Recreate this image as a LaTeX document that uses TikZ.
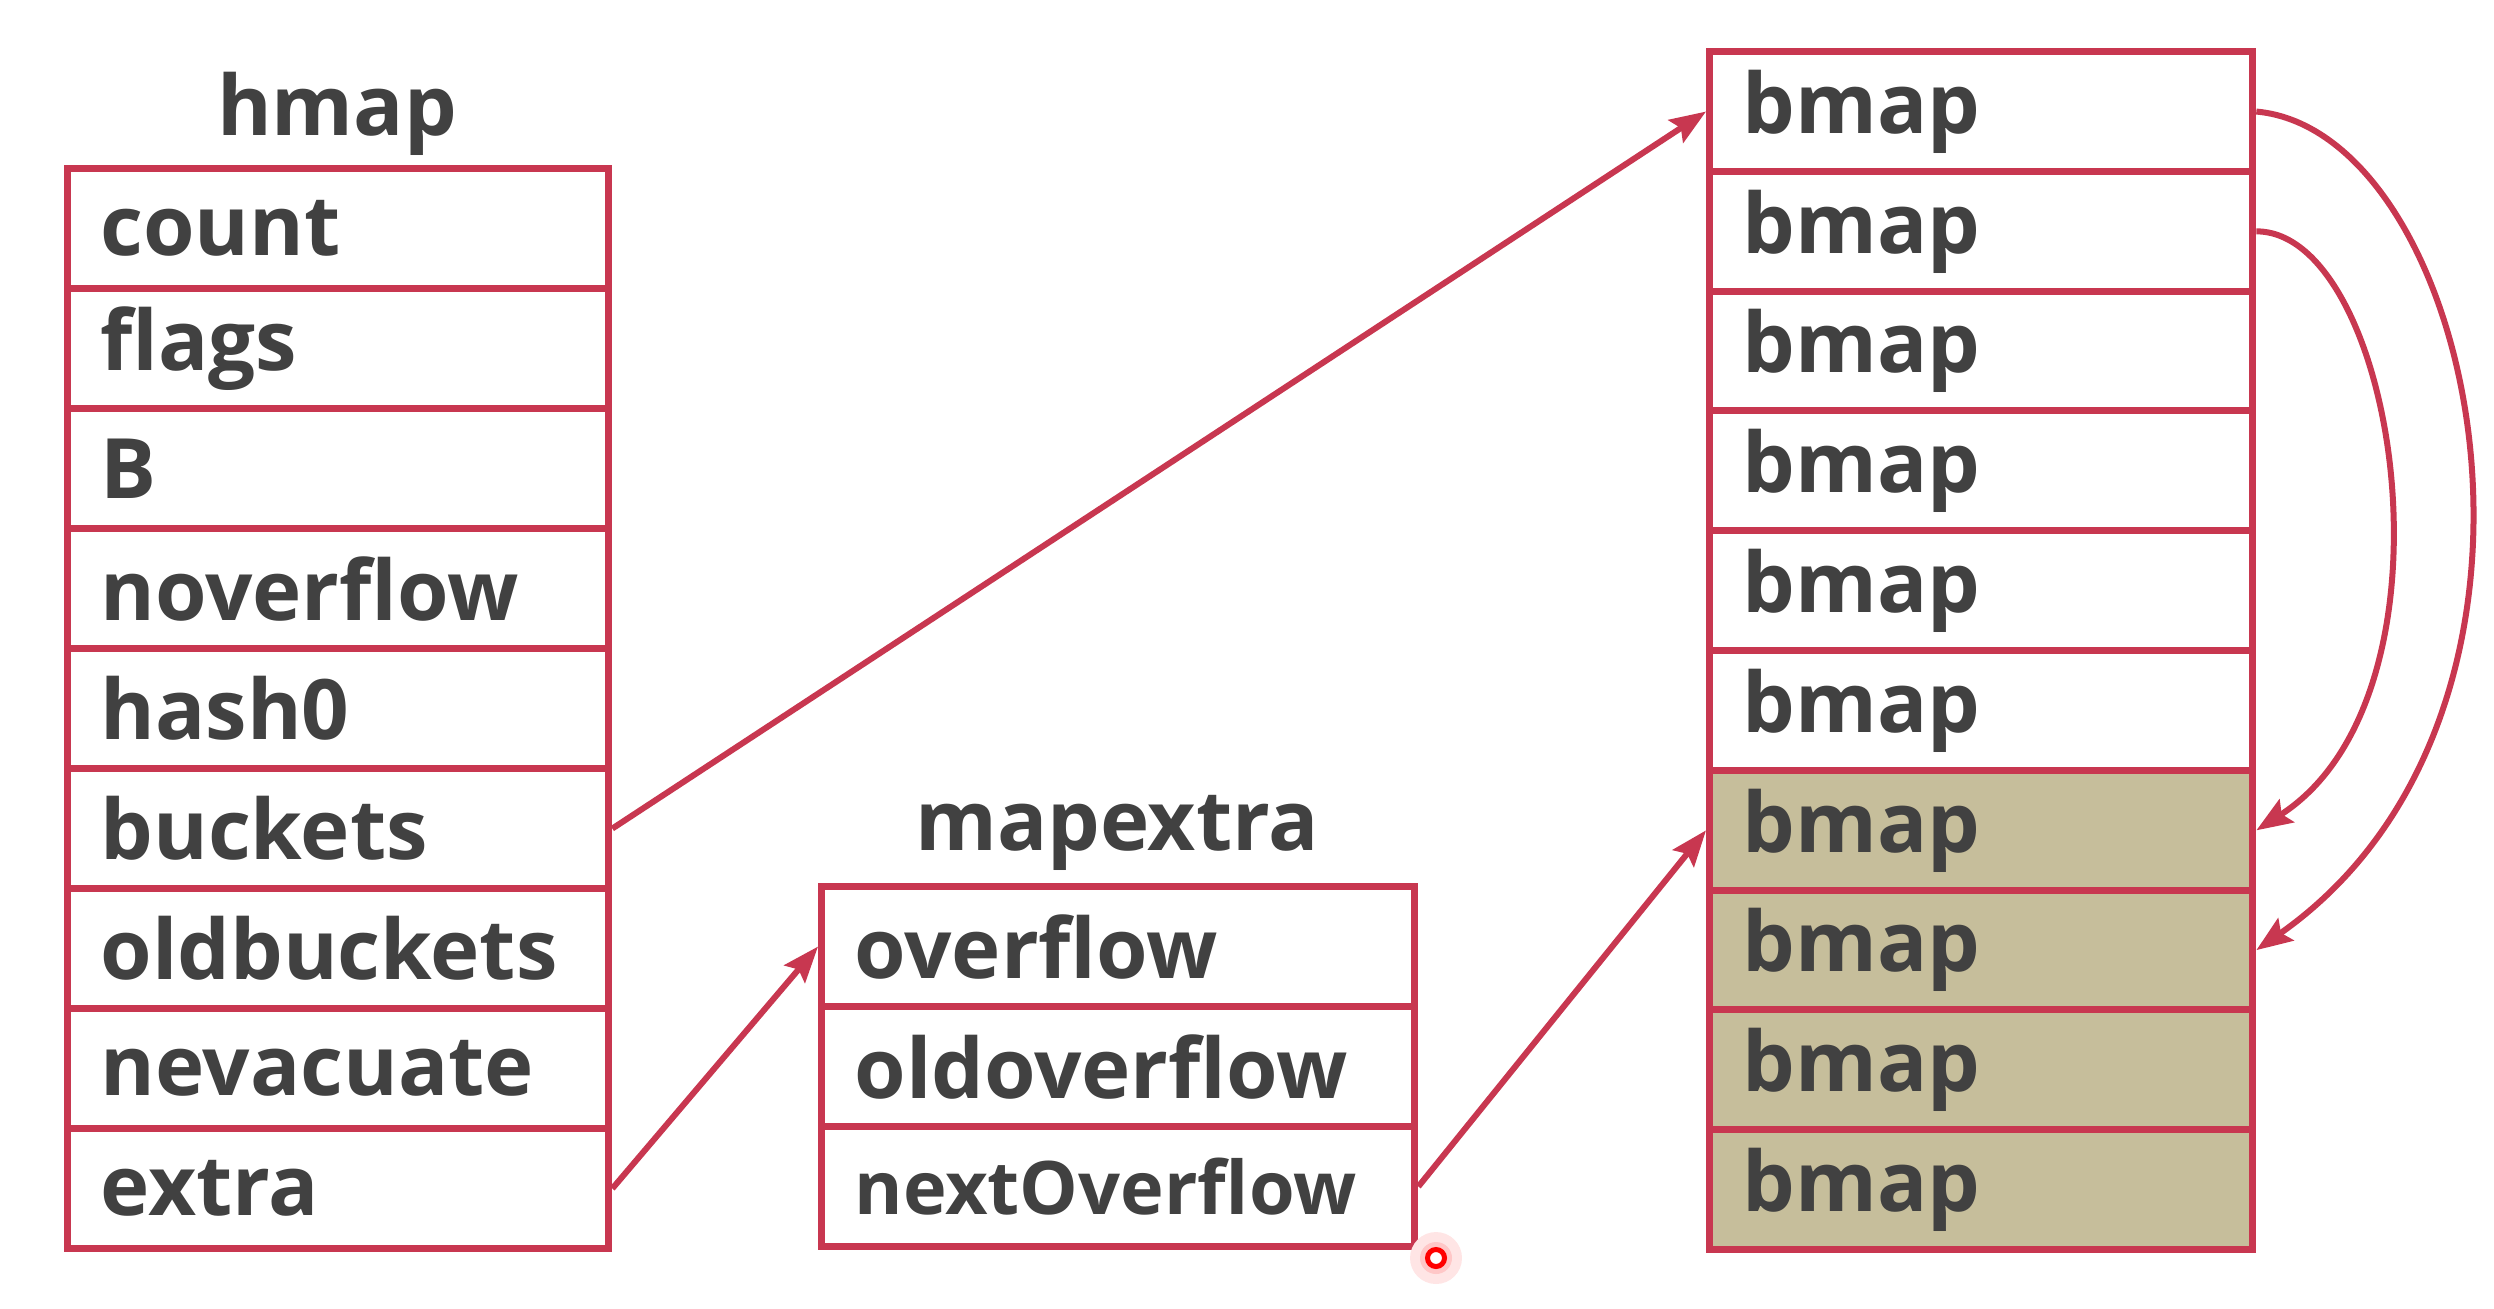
\documentclass[tikz,border=0pt]{standalone}
\usepackage{fontspec}
\setsansfont{Open Sans}
\usetikzlibrary{arrows.meta,positioning}
\definecolor{boxred}{RGB}{200,55,80}
\definecolor{txtgray}{RGB}{65,65,65}
\definecolor{oldtan}{RGB}{198,190,155}

\begin{document}
\begin{tikzpicture}[x=0.01cm,y=0.01cm,
	field/.style={draw=boxred,line width=0.07cm,fill=white,anchor=north west,minimum height=1.2cm,
		inner xsep=0.33cm,inner ysep=0pt,align=left,text=txtgray,font=\fontsize{23.7}{28}\sffamily\bfseries},
	oldfield/.style={field,fill=oldtan},
	title/.style={text=txtgray,font=\fontsize{23.7}{28}\sffamily\bfseries},
	link/.style={draw=boxred,line width=0.06cm,-{Stealth[length=0.36cm,width=0.27cm,inset=0.06cm]}}]
	\useasboundingbox (0,0) rectangle (2494,-1308);
	% hmap
	\node[title] (hmaptitle) at (337,-114) {hmap};
	\foreach \name [count=\i from 0] in {count,flags,B,noverflow,hash0,buckets,oldbuckets,nevacuate,extra}
		\node[field,text width=4.75cm] (\name) at (64,{-165-120*\i}) {\name};
	% mapextra
	\node[title] (extratitle) at (1117,-833) {mapextra};
	\node[field,text width=5.27cm] (overflow) at (818,-883) {overflow};
	\node[field,text width=5.27cm] (oldoverflow) at (818,-1003) {oldoverflow};
	\node[field,text width=5.27cm,font=\fontsize{21}{25}\sffamily\bfseries] (nextOverflow) at (818,-1123) {nextOverflow};
	% bmap buckets
	\foreach \i in {1,...,6}
		\node[field,text width=4.77cm] (b\i) at (1706,{-48-119.8*(\i-1)}) {bmap};
	\foreach \i in {7,...,10}
		\node[oldfield,text width=4.77cm] (b\i) at (1706,{-48-119.8*(\i-1)}) {bmap};
	% pointers
	\draw[link] (buckets.east) -- (b1.west);
	\draw[link] (extra.east) -- (overflow.west);
	\draw[link] (nextOverflow.east) -- (b7.west);
	\draw[link] (b1.east) .. controls +(220,-20) and +(342,240) .. (b8.east);
	\draw[link] (b2.east) .. controls +(140,0) and +(212,136) .. (b7.east);
	% laser dot
	\fill[red!10] (1436,-1258) circle (26);
	\fill[red!22] (1436,-1258) circle (16);
	\node[circle,draw=red,fill=white,line width=0.05cm,inner sep=0pt,minimum size=0.17cm] (dot) at (1436,-1258) {};
\end{tikzpicture}
\end{document}
